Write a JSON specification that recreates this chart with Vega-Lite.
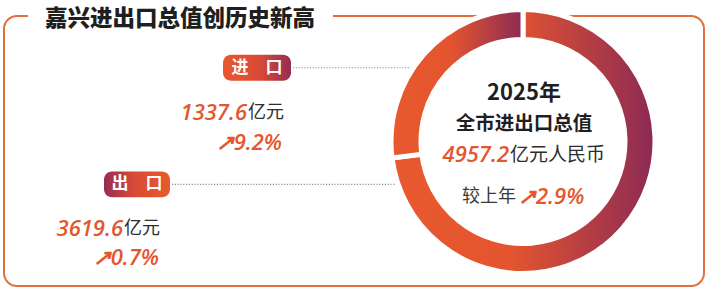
{
  "$schema": "https://vega.github.io/schema/vega-lite/v6.json",
  "width": 708,
  "height": 293,
  "autosize": {"type": "fit", "contains": "padding"},
  "padding": 0,
  "background": "white",
  "config": {"view": {"stroke": null}},
  "datasets": {
    "trade": [
      {"type": "出口", "value": 3619.6, "growthLabel": "↗0.7%", "order": 1},
      {"type": "进口", "value": 1337.6, "growthLabel": "↗9.2%", "order": 2}
    ],
    "total": [
      {"year": "2025年", "label": "全市进出口总值", "value": 4957.2, "growthLabel": "↗2.9%"}
    ]
  },
  "layer": [
    {
      "data": {"values": [{}]},
      "mark": {"type": "rect", "fill": null, "fillOpacity": 0, "stroke": "#E2703F", "strokeWidth": 2, "cornerRadius": 13},
      "encoding": {
        "x": {"datum": 4, "type": "quantitative", "scale": {"domain": [0, 708], "nice": false, "zero": false}, "axis": null},
        "x2": {"datum": 704},
        "y": {"datum": 15, "type": "quantitative", "scale": {"domain": [0, 293], "reverse": true, "nice": false, "zero": false}, "axis": null},
        "y2": {"datum": 286}
      }
    },
    {
      "data": {"values": [{}]},
      "mark": {"type": "rect", "fill": "white"},
      "encoding": {
        "x": {"datum": 28, "type": "quantitative"},
        "x2": {"datum": 333},
        "y": {"datum": 5, "type": "quantitative"},
        "y2": {"datum": 28}
      }
    },
    {
      "data": {"values": [{}]},
      "mark": {"type": "text", "font": "Noto Sans CJK SC", "fontWeight": 900, "fontSize": 22.5, "color": "#1f1f1f", "align": "center", "baseline": "middle"},
      "encoding": {
        "x": {"datum": 180, "type": "quantitative"},
        "y": {"datum": 18, "type": "quantitative"},
        "text": {"value": "嘉兴进出口总值创历史新高"}
      }
    },
    {
      "data": {"values": [{}]},
      "mark": {"type": "rule", "color": "#8f8f8f", "strokeWidth": 1.2, "strokeDash": [1.2, 1.6]},
      "encoding": {
        "x": {"datum": 293, "type": "quantitative"},
        "x2": {"datum": 414},
        "y": {"datum": 67, "type": "quantitative"}
      }
    },
    {
      "data": {"values": [{}]},
      "mark": {"type": "rule", "color": "#8f8f8f", "strokeWidth": 1.2, "strokeDash": [1.2, 1.6]},
      "encoding": {
        "x": {"datum": 172, "type": "quantitative"},
        "x2": {"datum": 398},
        "y": {"datum": 184, "type": "quantitative"}
      }
    },
    {
      "data": {"name": "trade"},
      "mark": {
        "type": "arc", "radius": 132, "radius2": 102, "stroke": "white", "strokeWidth": 5,
        "color": {"gradient": "linear", "x1": 0, "x2": 1, "y1": 0, "y2": 0,
          "stops": [{"offset": 0, "color": "#E9592E"}, {"offset": 0.45, "color": "#E4552F"}, {"offset": 1, "color": "#8C2A55"}]}
      },
      "encoding": {
        "theta": {"field": "value", "type": "quantitative", "stack": true},
        "order": {"field": "order", "type": "quantitative"},
        "x": {"datum": 523, "type": "quantitative"},
        "y": {"datum": 141, "type": "quantitative"}
      }
    },
    {
      "data": {"values": [{}]},
      "mark": {"type": "rect", "cornerRadius": 8,
        "color": {"gradient": "linear", "x1": 0, "x2": 1, "y1": 0, "y2": 0,
          "stops": [{"offset": 0, "color": "#E9592E"}, {"offset": 0.55, "color": "#D84A35"}, {"offset": 1, "color": "#962C52"}]}},
      "encoding": {
        "x": {"datum": 223, "type": "quantitative"},
        "x2": {"datum": 291},
        "y": {"datum": 54, "type": "quantitative"},
        "y2": {"datum": 80}
      }
    },
    {
      "data": {"values": [{}]},
      "mark": {"type": "rect", "cornerRadius": 8,
        "color": {"gradient": "linear", "x1": 0, "x2": 1, "y1": 0, "y2": 0,
          "stops": [{"offset": 0, "color": "#962C52"}, {"offset": 0.45, "color": "#D84A35"}, {"offset": 1, "color": "#E9592E"}]}},
      "encoding": {
        "x": {"datum": 104, "type": "quantitative"},
        "x2": {"datum": 170},
        "y": {"datum": 171, "type": "quantitative"},
        "y2": {"datum": 197}
      }
    },
    {
      "data": {"values": [{}]},
      "mark": {"type": "text", "font": "Noto Sans CJK SC", "fontWeight": 700, "fontSize": 17, "color": "white", "align": "center", "baseline": "middle"},
      "encoding": {
        "x": {"datum": 257, "type": "quantitative"},
        "y": {"datum": 67, "type": "quantitative"},
        "text": {"value": "进　口"}
      }
    },
    {
      "data": {"values": [{}]},
      "mark": {"type": "text", "font": "Noto Sans CJK SC", "fontWeight": 700, "fontSize": 17, "color": "white", "align": "center", "baseline": "middle"},
      "encoding": {
        "x": {"datum": 137, "type": "quantitative"},
        "y": {"datum": 184, "type": "quantitative"},
        "text": {"value": "出　口"}
      }
    },
    {
      "data": {"name": "trade"},
      "transform": [{"filter": "datum.type == '进口'"}],
      "mark": {"type": "text", "font": "Open Sans", "fontStyle": "italic", "fontWeight": 600, "fontSize": 22, "color": "#E4572E", "align": "right", "baseline": "middle"},
      "encoding": {
        "x": {"datum": 247, "type": "quantitative"},
        "y": {"datum": 112, "type": "quantitative"},
        "text": {"field": "value", "type": "quantitative", "format": ".1f"}
      }
    },
    {
      "data": {"values": [{}]},
      "mark": {"type": "text", "font": "Noto Sans CJK SC", "fontWeight": 400, "fontSize": 18, "color": "#2e2e2e", "align": "left", "baseline": "middle"},
      "encoding": {
        "x": {"datum": 248, "type": "quantitative"},
        "y": {"datum": 112, "type": "quantitative"},
        "text": {"value": "亿元"}
      }
    },
    {
      "data": {"name": "trade"},
      "transform": [{"filter": "datum.type == '进口'"}],
      "mark": {"type": "text", "font": "Open Sans", "fontStyle": "italic", "fontWeight": 600, "fontSize": 22, "color": "#E4572E", "align": "right", "baseline": "middle"},
      "encoding": {
        "x": {"datum": 282, "type": "quantitative"},
        "y": {"datum": 142, "type": "quantitative"},
        "text": {"field": "growthLabel", "type": "nominal"}
      }
    },
    {
      "data": {"name": "trade"},
      "transform": [{"filter": "datum.type == '出口'"}],
      "mark": {"type": "text", "font": "Open Sans", "fontStyle": "italic", "fontWeight": 600, "fontSize": 22, "color": "#E4572E", "align": "right", "baseline": "middle"},
      "encoding": {
        "x": {"datum": 123, "type": "quantitative"},
        "y": {"datum": 229, "type": "quantitative"},
        "text": {"field": "value", "type": "quantitative", "format": ".1f"}
      }
    },
    {
      "data": {"values": [{}]},
      "mark": {"type": "text", "font": "Noto Sans CJK SC", "fontWeight": 400, "fontSize": 18, "color": "#2e2e2e", "align": "left", "baseline": "middle"},
      "encoding": {
        "x": {"datum": 124, "type": "quantitative"},
        "y": {"datum": 229, "type": "quantitative"},
        "text": {"value": "亿元"}
      }
    },
    {
      "data": {"name": "trade"},
      "transform": [{"filter": "datum.type == '出口'"}],
      "mark": {"type": "text", "font": "Open Sans", "fontStyle": "italic", "fontWeight": 600, "fontSize": 22, "color": "#E4572E", "align": "right", "baseline": "middle"},
      "encoding": {
        "x": {"datum": 159, "type": "quantitative"},
        "y": {"datum": 258, "type": "quantitative"},
        "text": {"field": "growthLabel", "type": "nominal"}
      }
    },
    {
      "data": {"name": "total"},
      "mark": {"type": "text", "font": "Noto Sans CJK SC", "fontWeight": 700, "fontSize": 22, "color": "#1f1f1f", "align": "center", "baseline": "middle"},
      "encoding": {
        "x": {"datum": 524, "type": "quantitative"},
        "y": {"datum": 92, "type": "quantitative"},
        "text": {"field": "year", "type": "nominal"}
      }
    },
    {
      "data": {"name": "total"},
      "mark": {"type": "text", "font": "Noto Sans CJK SC", "fontWeight": 700, "fontSize": 19.5, "color": "#1f1f1f", "align": "center", "baseline": "middle"},
      "encoding": {
        "x": {"datum": 524, "type": "quantitative"},
        "y": {"datum": 123, "type": "quantitative"},
        "text": {"field": "label", "type": "nominal"}
      }
    },
    {
      "data": {"name": "total"},
      "mark": {"type": "text", "font": "Open Sans", "fontStyle": "italic", "fontWeight": 600, "fontSize": 22, "color": "#E4572E", "align": "right", "baseline": "middle"},
      "encoding": {
        "x": {"datum": 509, "type": "quantitative"},
        "y": {"datum": 155, "type": "quantitative"},
        "text": {"field": "value", "type": "quantitative", "format": ".1f"}
      }
    },
    {
      "data": {"values": [{}]},
      "mark": {"type": "text", "font": "Noto Sans CJK SC", "fontWeight": 400, "fontSize": 19, "color": "#2e2e2e", "align": "left", "baseline": "middle"},
      "encoding": {
        "x": {"datum": 510, "type": "quantitative"},
        "y": {"datum": 155, "type": "quantitative"},
        "text": {"value": "亿元人民币"}
      }
    },
    {
      "data": {"values": [{}]},
      "mark": {"type": "text", "font": "Noto Sans CJK SC", "fontWeight": 400, "fontSize": 18, "color": "#3a3a3a", "align": "right", "baseline": "middle"},
      "encoding": {
        "x": {"datum": 516, "type": "quantitative"},
        "y": {"datum": 197, "type": "quantitative"},
        "text": {"value": "较上年"}
      }
    },
    {
      "data": {"name": "total"},
      "mark": {"type": "text", "font": "Open Sans", "fontStyle": "italic", "fontWeight": 600, "fontSize": 22, "color": "#E4572E", "align": "left", "baseline": "middle"},
      "encoding": {
        "x": {"datum": 518, "type": "quantitative"},
        "y": {"datum": 197, "type": "quantitative"},
        "text": {"field": "growthLabel", "type": "nominal"}
      }
    }
  ]
}
